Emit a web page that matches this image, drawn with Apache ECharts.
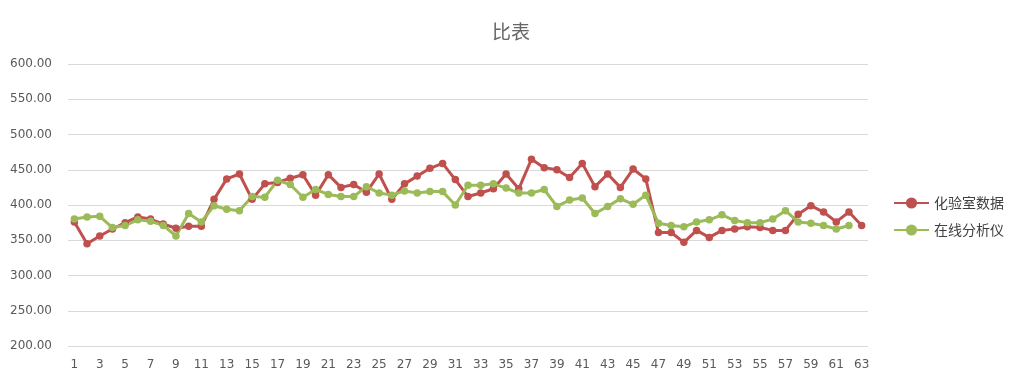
<!DOCTYPE html>
<html>
<head>
<meta charset="utf-8">
<script src="https://cdn.jsdelivr.net/npm/echarts@6/dist/echarts.min.js"></script>
<style>html,body{margin:0;padding:0;background:#fff;}#c{width:1022px;height:387px;}</style>
</head>
<body>
<div id="c"></div>
<script>
const categories = Array.from({length: 63}, (_, i) => String(i + 1));
const labData = [376,345,356,366,375,383,380,373,367,370,370,408,437,444,408,430,432,438,443,414,443,425,429,418,444,408,430,441,452,459,436,412,417,423,444,423,465,453,450,439,459,426,444,425,451,437,361,361,347,364,354,364,366,369,368,364,364,387,399,390,376,390,371];
const onlineData = [380,383,384,368,371,379,377,371,356,388,376,399,394,392,412,411,435,429,411,422,415,412,412,426,417,414,420,417,419,419,400,428,428,430,424,417,417,422,398,407,410,388,398,409,401,414,374,371,369,376,379,386,378,375,375,380,392,376,374,371,366,371];
const yTicks = {min: 200, max: 600, interval: 50};
const seriesNames = ['化验室数据', '在线分析仪'];

const chart = echarts.init(document.getElementById('c'), null, {renderer: 'canvas'});
const cjk = '"Noto Sans CJK SC","Microsoft YaHei",sans-serif';
const num = '"DejaVu Sans",Verdana,sans-serif';
chart.setOption({
  animation: false,
  backgroundColor: '#fff',
  title: {text: '比表', left: 'center', top: 17, textStyle: {fontSize: 19, fontWeight: 'normal', color: '#666666', fontFamily: cjk}},
  legend: {
    orient: 'vertical', left: 888, top: 191, itemGap: 13, itemWidth: 35, itemHeight: 14,
    textStyle: {fontSize: 14, color: '#404040', fontFamily: cjk},
    data: seriesNames
  },
  grid: {left: 68, right: 154, top: 64, bottom: 41},
  xAxis: {
    type: 'category', data: categories, boundaryGap: true,
    axisLine: {show: false}, axisTick: {show: false},
    axisLabel: {interval: 1, margin: 13, color: '#595959', fontSize: 12, fontFamily: num}
  },
  yAxis: {
    type: 'value', min: yTicks.min, max: yTicks.max, interval: yTicks.interval,
    axisLine: {show: false}, axisTick: {show: false},
    axisLabel: {formatter: v => v.toFixed(2), color: '#595959', fontSize: 12, margin: 16, fontFamily: num},
    splitLine: {lineStyle: {color: '#d9d9d9', width: 1}}
  },
  series: [
    {name: seriesNames[0], type: 'line', data: labData, symbol: 'circle', symbolSize: 7.5,
     lineStyle: {color: '#C0504D', width: 3}, itemStyle: {color: '#C0504D'}},
    {name: seriesNames[1], type: 'line', data: onlineData, symbol: 'circle', symbolSize: 7.5,
     lineStyle: {color: '#9BBB59', width: 3}, itemStyle: {color: '#9BBB59'}}
  ]
});
</script>
</body>
</html>
